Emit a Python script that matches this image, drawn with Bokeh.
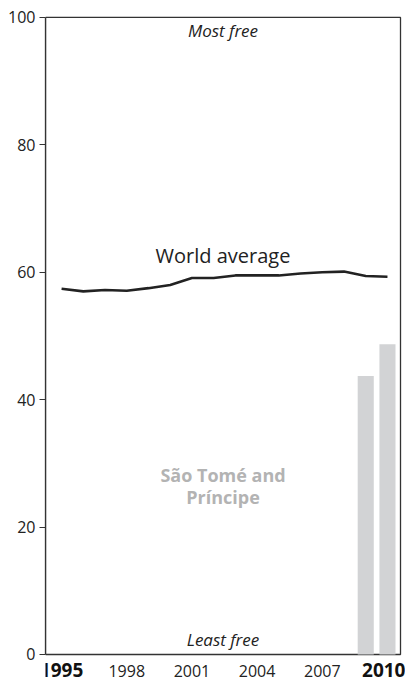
from bokeh.plotting import figure
from bokeh.models import Range1d, FixedTicker, LinearAxis
from bokeh.core.properties import value
from bokeh.embed import file_html
from bokeh.resources import INLINE

years = list(range(1995, 2011))
world_avg = [57.4, 57.0, 57.2, 57.1, 57.5, 58.0, 59.1, 59.1, 59.5, 59.5, 59.5, 59.8, 60.0, 60.1, 59.4, 59.3]
stp_years = [2009, 2010]
stp_values = [43.7, 48.7]
y_ticks = [0, 20, 40, 60, 80, 100]
x_ticks_normal = [1998, 2001, 2004, 2007]
x_ticks_bold = [1995, 2010]

FONT = "Open Sans"
X0, X1 = 1994.26, 2010.6      # box edges (years)
Y0, Y1 = 0, 100               # box edges (score)

p = figure(width=405, height=685, output_backend="svg", toolbar_location=None,
           x_range=Range1d(X0, 2010.83), y_range=Range1d(-4.87, 100.3),
           min_border_left=45, min_border_right=0, min_border_top=15, min_border_bottom=0)
p.background_fill_color = "white"
p.border_fill_color = "white"
p.outline_line_color = None
p.grid.visible = False

# Frame box
p.quad(left=[X0], right=[X1], bottom=[Y0], top=[Y1], fill_color=None,
       line_color="#333333", line_width=1.3)

# Bars for São Tomé and Príncipe
p.vbar(x=stp_years, top=stp_values, bottom=0, width=0.74, color="#d2d3d5", line_color=None)

# World average line
p.line(years, world_avg, line_color="#222222", line_width=2.6, line_join="round")

# Texts
cx = (X0 + X1) / 2
p.text(x=[cx], y=[62.7], text=["World average"], text_font=value(FONT), text_font_size="20px",
       text_color="#222222", text_align="center", text_baseline="alphabetic")
p.text(x=[cx], y=[98.0], text=["Most free"], text_font=value(FONT), text_font_size="17px",
       text_font_style="italic", text_color="#222222", text_align="center", text_baseline="alphabetic")
p.text(x=[cx], y=[2.3], text=["Least free"], text_font=value(FONT), text_font_size="17px",
       text_font_style="italic", text_color="#222222", text_align="center", text_baseline="alphabetic")
p.text(x=[cx, cx], y=[28.1, 24.7], text=["São Tomé and", "Príncipe"], text_font=value(FONT),
       text_font_size="18px", text_font_style="bold", text_color="#b3b3b3",
       text_align="center", text_baseline="alphabetic")

# X axes (drawn at y = 0)
def style_xaxis(ax, ticks, size, bold):
    ax.ticker = FixedTicker(ticks=ticks)
    ax.fixed_location = 0
    ax.minor_tick_line_color = None
    ax.major_tick_line_color = None
    ax.axis_line_color = None
    ax.major_tick_out = 0
    ax.major_tick_in = 0
    ax.major_label_standoff = 11
    ax.major_label_text_font = FONT
    ax.major_label_text_font_size = size
    ax.major_label_text_font_style = "bold" if bold else "normal"
    ax.major_label_text_color = "#111111" if bold else "#222222"

style_xaxis(p.xaxis[0], x_ticks_normal, "16px", False)
bold_ax = LinearAxis()
style_xaxis(bold_ax, [x_ticks_bold[0], x_ticks_bold[1] + 0.3], "19px", True)
bold_ax.major_label_overrides = {x_ticks_bold[1] + 0.3: str(x_ticks_bold[1])}
bold_ax.major_label_standoff = 9
p.add_layout(bold_ax, "below")

# Y axis
ya = p.yaxis[0]
ya.ticker = FixedTicker(ticks=y_ticks)
ya.bounds = (Y0, Y1)
ya.minor_tick_line_color = None
ya.major_tick_out = 6
ya.major_tick_in = 0
ya.major_tick_line_color = "#333333"
ya.axis_line_color = "#333333"
ya.axis_line_width = 1.3
ya.major_label_standoff = 4
ya.major_label_text_font = FONT
ya.major_label_text_font_size = "16px"
ya.major_label_text_color = "#222222"

open("out.html", "w").write(file_html(p, INLINE))
